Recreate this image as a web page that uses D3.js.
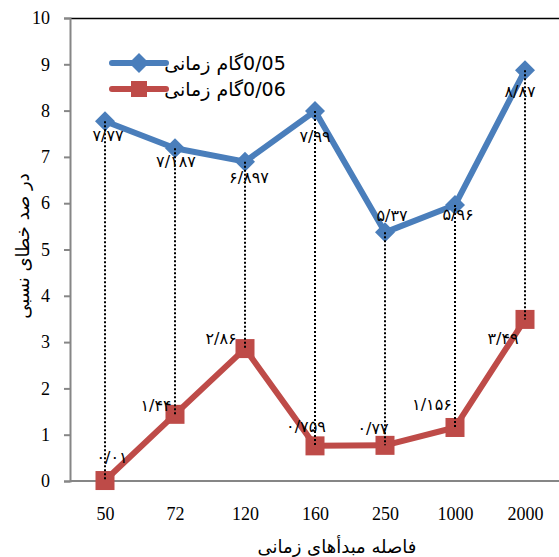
<!DOCTYPE html>
<html>
<head>
<meta charset="utf-8">
<script src="https://cdn.jsdelivr.net/npm/d3@7"></script>
<style>
  body { margin: 0; background: #fff; }
  svg { display: block; }
</style>
</head>
<body>
<div id="chart"></div>
<script>
// data
const categories = ["50", "72", "120", "160", "250", "1000", "2000"];
const step005 = [7.77, 7.187, 6.897, 7.99, 5.37, 5.96, 8.87];
const step006 = [0.01, 1.44, 2.86, 0.759, 0.77, 1.156, 3.49];
const yTicks = [0, 1, 2, 3, 4, 5, 6, 7, 8, 9, 10];
const legendNames = ["0/05گام زمانی", "0/06گام زمانی"];

// hand placed label nudges (px), like the manually moved labels in the source
const nudge005 = [[3, 14], [1, 13], [4, 16], [0, 25], [7, -17], [3, 9], [-5, 21]];
const nudge006 = [[7, -23], [-19, -9], [-24, -10], [-9, -19], [-12, -17], [-23, -23], [-22, 19]];

const width = 559, height = 557;
const plot = { left: 70, right: 560, top: 18, bottom: 481 };
const blue = "#4a7ebb", red = "#be4b48";

const toFa = v => String(v).replace(".", "/").replace(/[0-9]/g, d => "۰۱۲۳۴۵۶۷۸۹"[+d]);

const svg = d3.select("#chart").append("svg")
    .attr("width", width)
    .attr("height", height);

const x = d3.scalePoint().domain(categories).range([plot.left, plot.right]).padding(0.5);
const y = d3.scaleLinear().domain([0, 10]).range([plot.bottom, plot.top]);

// top frame line
svg.append("line")
    .attr("x1", plot.left).attr("x2", width)
    .attr("y1", plot.top + 0.5).attr("y2", plot.top + 0.5)
    .attr("stroke", "#000").attr("stroke-width", 1.5);

// y axis
const yAxis = svg.append("g")
    .attr("transform", `translate(${plot.left},0)`)
    .call(d3.axisLeft(y).tickValues(yTicks).tickSize(6).tickPadding(14));
yAxis.select(".domain").attr("stroke", "#868686").attr("stroke-width", 2);
yAxis.selectAll(".tick line").attr("stroke", "#868686").attr("stroke-width", 2);
yAxis.selectAll(".tick text")
    .style("font-family", "'Liberation Serif', serif")
    .style("font-size", "18px")
    .attr("fill", "#000");

// x axis
const xAxis = svg.append("g")
    .attr("transform", `translate(0,${plot.bottom})`)
    .call(d3.axisBottom(x).tickSize(0).tickPadding(26));
xAxis.select(".domain").attr("stroke", "#868686").attr("stroke-width", 2)
    .attr("d", `M${plot.left},0H${width}`);
xAxis.selectAll(".tick text")
    .style("font-family", "'Liberation Serif', serif")
    .style("font-size", "18px")
    .attr("fill", "#000");

// axis titles
svg.append("text")
    .attr("transform", "translate(22,246) rotate(-90)")
    .attr("text-anchor", "middle")
    .attr("dominant-baseline", "central")
    .style("font-family", "'DejaVu Sans', sans-serif")
    .style("font-size", "18px")
    .text("در صد خطای نسبی");

svg.append("text")
    .attr("x", 337).attr("y", 546)
    .attr("text-anchor", "middle")
    .attr("dominant-baseline", "central")
    .style("font-family", "'DejaVu Sans', sans-serif")
    .style("font-size", "18px")
    .text("فاصله مبدأهای زمانی");

const line = d3.line().x((d, i) => x(categories[i])).y(d => y(d));

// series lines
svg.append("path").datum(step005)
    .attr("d", line).attr("fill", "none")
    .attr("stroke", blue).attr("stroke-width", 6).attr("stroke-linejoin", "round");
svg.append("path").datum(step006)
    .attr("d", line).attr("fill", "none")
    .attr("stroke", red).attr("stroke-width", 6).attr("stroke-linejoin", "round");

// markers
const diamond = d3.symbol().type(d3.symbolSquare).size(200);
svg.selectAll(".m005").data(step005).enter().append("path")
    .attr("d", diamond)
    .attr("transform", (d, i) => `translate(${x(categories[i])},${y(d)}) rotate(45)`)
    .attr("fill", blue);
svg.selectAll(".m006").data(step006).enter().append("rect")
    .attr("x", (d, i) => x(categories[i]) - 9.5)
    .attr("y", d => y(d) - 9.5)
    .attr("width", 19).attr("height", 19)
    .attr("fill", red);

// high-low lines between the two series
svg.selectAll(".hilo").data(categories).enter().append("line")
    .attr("x1", d => x(d)).attr("x2", d => x(d))
    .attr("y1", (d, i) => y(Math.max(step005[i], step006[i])))
    .attr("y2", (d, i) => y(Math.min(step005[i], step006[i])))
    .attr("stroke", "#000").attr("stroke-width", 2)
    .attr("stroke-dasharray", "2,2");

// data labels
function labels(values, nudges) {
    svg.append("g").selectAll("text").data(values).enter().append("text")
        .attr("x", (d, i) => x(categories[i]) + nudges[i][0])
        .attr("y", (d, i) => y(d) + nudges[i][1])
        .attr("text-anchor", "middle")
        .attr("dominant-baseline", "central")
        .style("font-family", "'DejaVu Sans', sans-serif")
        .style("font-size", "16px")
        .attr("fill", "#000")
        .text(d => toFa(d));
}
labels(step005, nudge005);
labels(step006, nudge006);

// legend
const legend = svg.append("g");
const rows = legend.selectAll("g").data(legendNames).enter().append("g")
    .attr("transform", (d, i) => `translate(0,${63 + i * 26})`);
rows.append("line")
    .attr("x1", 112).attr("x2", 166)
    .attr("stroke", (d, i) => i ? red : blue)
    .attr("stroke-width", 6).attr("stroke-linecap", "round");
rows.filter((d, i) => i === 0).append("path")
    .attr("d", diamond)
    .attr("transform", "translate(139,0) rotate(45)")
    .attr("fill", blue);
rows.filter((d, i) => i === 1).append("rect")
    .attr("x", 131).attr("y", -8).attr("width", 16).attr("height", 16)
    .attr("fill", red);
rows.append("text")
    .attr("x", 225).attr("y", 0)
    .attr("text-anchor", "middle")
    .attr("dominant-baseline", "central")
    .attr("direction", "rtl")
    .style("unicode-bidi", "embed")
    .style("font-family", "'DejaVu Sans', sans-serif")
    .style("font-size", "19px")
    .attr("fill", "#000")
    .text(d => d);
</script>
</body>
</html>
